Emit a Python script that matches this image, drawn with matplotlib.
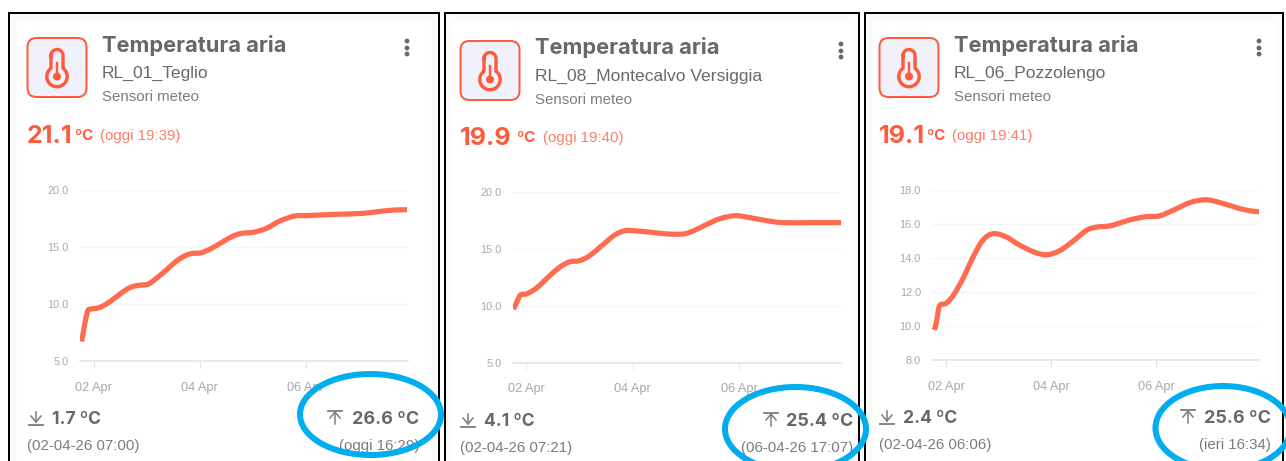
import numpy as np
import matplotlib
matplotlib.use('Agg')
import matplotlib.pyplot as plt
from matplotlib.patches import Rectangle, FancyBboxPatch, Ellipse, Circle, PathPatch
from matplotlib.path import Path

W, H = 1286, 461

# day of April for each reading, and temperature
days_teglio = [1.77, 1.81, 1.88, 1.94, 2.08, 2.24, 2.43, 2.65, 2.81, 3.03, 3.18, 3.37, 3.56, 3.75, 3.87,
               4.03, 4.22, 4.44, 4.63, 4.79, 5.01, 5.26, 5.51, 5.79, 6.01, 6.58, 7.08, 7.46, 7.71, 7.91]
temp_teglio = [6.70, 7.72, 9.33, 9.56, 9.65, 10.0, 10.64, 11.37, 11.61, 11.75, 12.25, 12.98, 13.77, 14.30, 14.44,
               14.50, 14.88, 15.47, 15.96, 16.2, 16.29, 16.64, 17.28, 17.72, 17.75, 17.87, 17.95, 18.16, 18.25, 18.27]

days_monte = [1.76, 1.81, 1.89, 2.0, 2.16, 2.31, 2.50, 2.66, 2.82, 3.0, 3.19, 3.41, 3.66, 3.85,
              4.01, 4.35, 4.66, 4.95, 5.13, 5.39, 5.64, 5.92, 6.20, 6.48, 6.80, 7.36, 7.91]
temp_monte = [9.70, 10.22, 10.96, 11.05, 11.46, 12.07, 12.92, 13.51, 13.89, 13.98, 14.42, 15.27, 16.24, 16.62,
              16.62, 16.48, 16.33, 16.33, 16.59, 17.18, 17.68, 17.94, 17.77, 17.53, 17.33, 17.33, 17.33]

days_pozzo = [1.77, 1.81, 1.87, 2.0, 2.14, 2.32, 2.50, 2.69, 2.88, 3.13, 3.39, 3.70, 3.92, 4.15,
              4.40, 4.68, 4.87, 5.13, 5.48, 5.80, 6.05, 6.30, 6.65, 6.94, 7.19, 7.51, 7.76, 7.95]
temp_pozzo = [9.78, 10.17, 11.18, 11.34, 11.83, 12.80, 13.98, 15.01, 15.42, 15.25, 14.76, 14.31, 14.19, 14.41,
              14.95, 15.64, 15.81, 15.89, 16.22, 16.42, 16.46, 16.77, 17.26, 17.41, 17.26, 16.96, 16.77, 16.71]

x_ticks = [2, 4, 6]
x_labels = ['02 Apr', '04 Apr', '06 Apr']
y_ticks_wide = [5, 10, 15, 20]
y_ticks_pozzo = [8, 10, 12, 14, 16, 18]

names = ['RL_01_Teglio', 'RL_08_Montecalvo Versiggia', 'RL_06_Pozzolengo']
now_vals = ['21.1', '19.9', '19.1']
now_times = ['(oggi 19:39)', '(oggi 19:40)', '(oggi 19:41)']
min_vals = ['1.7 ºC', '4.1 ºC', '2.4 ºC']
min_times = ['(02-04-26 07:00)', '(02-04-26 07:21)', '(02-04-26 06:06)']
max_vals = ['26.6 ºC', '25.4 ºC', '25.6 ºC']
max_times = ['(oggi 16:29)', '(06-04-26 17:07)', '(ieri 16:34)']

ORANGE = '#ff5a3c'
LINE = '#ff6b4f'
GREY = '#68686c'
SOFT = '#7c7c80'
BLUE = '#00aeef'
TICK = '#a5a9b0'
TEXT_FONT = ['Liberation Sans', 'DejaVu Sans']
BOLD_FONT = ['Inter', 'DejaVu Sans']

# pixel layout of every card
cards = [
    dict(l=9, r=439, y=0, ix=27.5, vx=27, unit=75, when=100, ax=(80, 407.5, 190, 361), xlim=(1.74, 7.92),
         ylim=(5, 20), yt=y_ticks_wide, days=days_teglio, temp=temp_teglio, dot=407, dn=29, up=328, rt=419.5,
         ell=(370.5, 414.5, 141, 81)),
    dict(l=445, r=859, y=3, ix=460.5, vx=460, unit=517.5, when=543, ax=(513, 841, 192.3, 362.7), xlim=(1.75, 7.91),
         ylim=(5, 20), yt=y_ticks_wide, days=days_monte, temp=temp_monte, dot=841, dn=461, up=764, rt=853,
         ell=(795.5, 429, 141, 84)),
    dict(l=865, r=1283, y=0, ix=879.5, vx=879, unit=927.5, when=952.5, ax=(932, 1259, 189.7, 360.3), xlim=(1.73, 7.95),
         ylim=(8, 18), yt=y_ticks_pozzo, days=days_pozzo, temp=temp_pozzo, dot=1259, dn=880, up=1181, rt=1271,
         ell=(1223, 428, 135, 84)),
]


def px(size):
    return size * 0.72


def smooth_path(xs, ys):
    # bezier through the readings, the way the dashboard draws its line
    p = np.column_stack([xs, ys])
    t = np.zeros_like(p)
    t[1:-1] = (p[2:] - p[:-2]) / 2
    t[0] = p[1] - p[0]
    t[-1] = p[-1] - p[-2]
    verts = [p[0]]
    codes = [Path.MOVETO]
    for a in range(len(p) - 1):
        # keep handles short where the gaps differ a lot
        gap = p[a + 1, 0] - p[a, 0]
        h0 = t[a] * min(1, gap / max(abs(t[a, 0]), 1e-6)) / 3
        h1 = t[a + 1] * min(1, gap / max(abs(t[a + 1, 0]), 1e-6)) / 3
        verts += [p[a] + h0, p[a + 1] - h1, p[a + 1]]
        codes += [Path.CURVE4] * 3
    return Path(verts, codes)


def thermometer(ax, cx, top):
    # outline of the tube and bulb in pixel coordinates
    bulb_y = top + 28.5
    tube_y = top + 7.5
    r_t, r_b = 6, 10.2
    gap = np.arcsin(r_t / r_b)
    a1 = np.linspace(np.pi, 2 * np.pi, 30)
    a2 = np.linspace(-np.pi / 2 + gap, 1.5 * np.pi - gap, 60)
    xs = np.r_[cx + r_t * np.cos(a1), cx + r_b * np.cos(a2)]
    ys = np.r_[tube_y + r_t * np.sin(a1), bulb_y + r_b * np.sin(a2)]
    ax.plot(np.r_[xs, xs[0]], np.r_[ys, ys[0]], color=ORANGE, lw=px(3.4), solid_joinstyle='round')
    ax.plot([cx, cx], [top + 15, bulb_y], color=ORANGE, lw=px(2.4))
    ax.add_patch(Circle((cx, bulb_y), 4, color=ORANGE, lw=0))


fig = plt.figure(figsize=(W / 100, H / 100), dpi=100, facecolor='white')

bg = fig.add_axes([0, 0, 1, 1], zorder=0)
fg = fig.add_axes([0, 0, 1, 1], zorder=5)
for a in (bg, fg):
    a.set_xlim(0, W)
    a.set_ylim(H, 0)
    a.axis('off')

for i, c in enumerate(cards):
    l, r, y = c['l'], c['r'], c['y']
    bg.add_patch(Rectangle((l, 13), r - l, 470, fc='#fbfbfc', ec='black', lw=px(2)))
    bg.add_patch(Rectangle((l + 8, 22), r - l - 16, 470, fc='white', ec='none'))

    # icon
    bg.add_patch(FancyBboxPatch((c['ix'] + 6, 44 + y), 47, 47, boxstyle='round,pad=6,rounding_size=9',
                                fc='#f1f1fb', ec=ORANGE, lw=px(2)))
    thermometer(bg, c['ix'] + 29.5, 48 + y)

    # header texts
    tx = c['ix'] + 74.5
    bg.text(tx, 51.5 + y, 'Temperatura aria', family=BOLD_FONT, weight='bold', fontsize=px(21.8), color=GREY, va='baseline')
    bg.text(tx, 78 + y, names[i], family=TEXT_FONT, fontsize=px(17.5), color=GREY, va='baseline')
    bg.text(tx, 101 + y, 'Sensori meteo', family=TEXT_FONT, fontsize=px(15), color=SOFT, va='baseline')
    for dy in (41, 48, 54):
        bg.add_patch(Circle((c['dot'], dy + y), 2.4, color=GREY, lw=0))

    # current reading
    base = 143 + (2 if i == 1 else 0)
    bg.text(c['vx'], base, now_vals[i], family=BOLD_FONT, weight='bold', fontsize=px(25), color=ORANGE, va='baseline')
    bg.text(c['unit'], base - 3, 'ºC', family=BOLD_FONT, weight='bold', fontsize=px(15), color=ORANGE, va='baseline')
    bg.text(c['when'], base - 3, now_times[i], family=TEXT_FONT, fontsize=px(15), color='#ff7d68', va='baseline')

    # chart
    x0, x1, y0, y1 = c['ax']
    ax = fig.add_axes([x0 / W, 1 - y1 / H, (x1 - x0) / W, (y1 - y0) / H], zorder=2)
    ax.patch.set_alpha(0)
    ax.add_patch(PathPatch(smooth_path(c['days'], c['temp']), fc='none', ec=LINE, lw=px(5.2),
                           joinstyle='round', capstyle='butt', zorder=3))
    ax.set_xlim(*c['xlim'])
    ax.set_ylim(*c['ylim'])
    ax.set_xticks(x_ticks)
    ax.set_xticklabels(x_labels)
    ax.set_yticks(c['yt'])
    ax.set_yticklabels([f'{v:.1f}' for v in c['yt']])
    ax.tick_params(axis='x', length=px(7), width=px(1.2), color='#e0e5ee', pad=px(13.5), labelsize=px(12.8), labelcolor=TICK)
    ax.tick_params(axis='y', length=0, pad=px(11), labelsize=px(11), labelcolor=TICK)
    for lab in ax.get_xticklabels() + ax.get_yticklabels():
        lab.set_family(TEXT_FONT)
    ax.grid(axis='y', color='#f4f5f9', lw=px(1.2))
    ax.set_axisbelow(True)
    for s in ('top', 'left', 'right'):
        ax.spines[s].set_visible(False)
    ax.spines['bottom'].set_color('#e0e5ee')
    ax.spines['bottom'].set_linewidth(px(1.6))

    # min and max
    by = 424 + (2 if i == 1 else 0) - (1 if i == 2 else 0)
    dn, up, rt = c['dn'], c['up'], c['rt']
    bg.plot([dn, dn + 14], [by + 1, by + 1], color=SOFT, lw=px(1.8))
    bg.plot([dn + 7, dn + 7], [by - 12, by - 2], color=SOFT, lw=px(1.5))
    bg.plot([dn + 2, dn + 7, dn + 12], [by - 8, by - 2, by - 8], color=SOFT, lw=px(1.5))
    bg.plot([up, up + 14], [by - 13, by - 13], color=SOFT, lw=px(1.8))
    bg.plot([up + 7, up + 7], [by - 12, by], color=SOFT, lw=px(1.5))
    bg.plot([up + 2, up + 7, up + 12], [by - 6, by - 12, by - 6], color=SOFT, lw=px(1.5))
    bg.text(dn + 23, by, min_vals[i], family=BOLD_FONT, weight='bold', fontsize=px(17.5), color=GREY, va='baseline')
    bg.text(rt, by, max_vals[i], family=BOLD_FONT, weight='bold', fontsize=px(18), color=GREY, va='baseline', ha='right')
    bg.text(c['vx'], by + 26, min_times[i], family=TEXT_FONT, fontsize=px(15), color=SOFT, va='baseline')
    bg.text(rt, by + 26, max_times[i], family=TEXT_FONT, fontsize=px(15), color=SOFT, va='baseline', ha='right')

    # hand drawn highlight
    ex, ey, ew, eh = c['ell']
    fg.add_patch(Ellipse((ex, ey), ew, eh, fc='none', ec=BLUE, lw=px(6)))

fig.savefig('out.png', dpi=100, facecolor='white')
